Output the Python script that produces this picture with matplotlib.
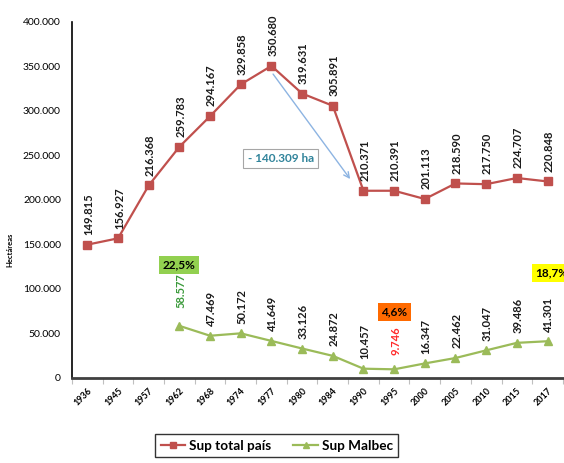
import numpy as np
import matplotlib
matplotlib.use("Agg")
import matplotlib.pyplot as plt
from matplotlib.ticker import FuncFormatter, FixedLocator

plt.rcParams["font.family"] = ["Lato", "DejaVu Sans"]

years = ["1936", "1945", "1957", "1962", "1968", "1974", "1977", "1980",
         "1984", "1990", "1995", "2000", "2005", "2010", "2015", "2017"]
sup_total = [149815, 156927, 216368, 259783, 294167, 329858, 350680, 319631,
             305891, 210371, 210391, 201113, 218590, 217750, 224707, 220848]
# Malbec starts in 1962
malbec_years = years[3:]
sup_malbec = [58577, 47469, 50172, 41649, 33126, 24872, 10457, 9746,
              16347, 22462, 31047, 39486, 41301]


def miles(v):
    return f"{v:,.0f}".replace(",", ".")


fig = plt.figure(figsize=(5.64, 4.63), dpi=100)
ax = fig.add_axes([0.1277, 0.1836, 0.8703, 0.7689])

x = np.arange(len(years))
xm = x[3:]
red = "#C0504D"
green = "#9BBB59"

ax.plot(x, sup_total, color=red, lw=1.6, marker="s", ms=5.5, label="Sup total país")
ax.plot(xm, sup_malbec, color=green, lw=1.6, marker="^", ms=6, label="Sup Malbec")

for xi, v in zip(x, sup_total):
    ax.annotate(miles(v), (xi, v), xytext=(1, 7), textcoords="offset points",
                rotation=90, ha="center", va="bottom", fontsize=8,
                fontweight="bold", color="#1a1a1a")

for xi, v in zip(xm, sup_malbec):
    col = "#1a1a1a"
    off = 7
    if v == 58577:
        col = "#3A9A3A"
        off = 13
    if v == 9746:
        col = "#FF2A2A"
        off = 10
    ax.annotate(miles(v), (xi, v), xytext=(1, off), textcoords="offset points",
                rotation=90, ha="center", va="bottom", fontsize=8,
                fontweight="bold", color=col)

# percentage boxes
ax.text(3, 127000, "22,5%", ha="center", va="center", fontsize=8.5, fontweight="bold",
        bbox=dict(boxstyle="square,pad=0.3", fc="#92D050", ec="none"))
ax.text(10.0, 74000, "4,6%", ha="center", va="center", fontsize=8.5, fontweight="bold",
        bbox=dict(boxstyle="square,pad=0.3", fc="#FF6A00", ec="none"))
ax.text(15.15, 118000, "18,7%", ha="center", va="center", fontsize=8.5, fontweight="bold",
        bbox=dict(boxstyle="square,pad=0.3", fc="#FFFF00", ec="none"))

# drop arrow
ax.annotate("", xy=(8.62, 221000), xytext=(6.0, 344000),
            arrowprops=dict(arrowstyle="->", color="#8DB4E2", lw=1.0))
ax.text(6.3, 247000, "- 140.309 ha", ha="center", va="center", fontsize=8.5,
        fontweight="bold", color="#31849B",
        bbox=dict(boxstyle="square,pad=0.35", fc="white", ec="#A6A6A6", lw=0.8))

ax.set_xlim(-0.5, len(years) - 0.5)
ax.set_ylim(0, 400000)
ax.set_yticks(np.arange(0, 400001, 50000))
ax.yaxis.set_major_formatter(FuncFormatter(lambda v, p: miles(v)))
ax.tick_params(axis="y", length=0, labelsize=7.5, pad=8)

ax.set_xticks(x)
ax.set_xticklabels(years, rotation=45, ha="right", rotation_mode="anchor",
                   fontsize=6.5, fontweight="bold")
ax.tick_params(axis="x", which="major", length=0, pad=6)
ax.xaxis.set_minor_locator(FixedLocator(np.arange(-0.5, len(years), 1)))
ax.tick_params(axis="x", which="minor", length=4, color="#BFBFBF", width=0.8)

ax.set_ylabel("Hectáreas", fontsize=5.5, fontweight="bold")
ax.yaxis.set_label_coords(-0.12, 0.36)

for s in ["top", "right"]:
    ax.spines[s].set_visible(False)
ax.spines["left"].set_color("black")
ax.spines["left"].set_linewidth(1.2)
ax.spines["bottom"].set_color("#404040")
ax.spines["bottom"].set_linewidth(2)

leg = fig.legend(loc="center", bbox_to_anchor=(0.491, 0.037), ncol=2,
                 frameon=True, fancybox=False, edgecolor="black",
                 prop=dict(size=9.8, weight="bold"), handlelength=1.8,
                 handletextpad=0.3, columnspacing=1.6, borderpad=0.4, markerscale=0.8)
leg.get_frame().set_linewidth(1.0)

fig.savefig("out.png", dpi=100)
